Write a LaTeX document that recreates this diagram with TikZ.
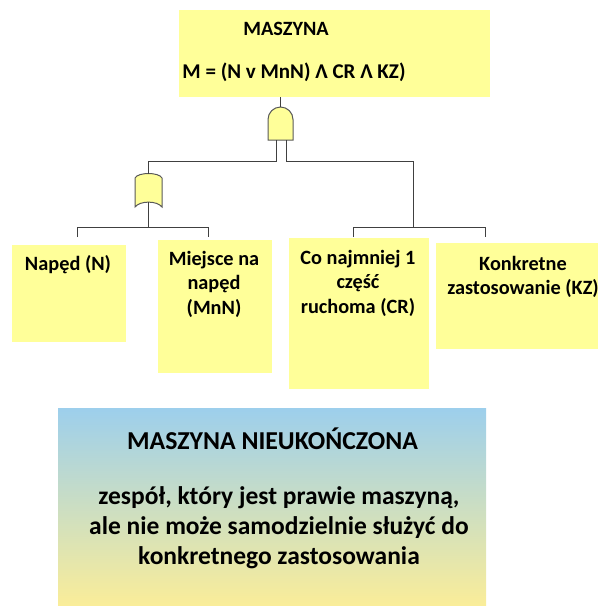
\documentclass[tikz,border=0pt]{standalone}
\usepackage{fontspec}
\setmainfont{Carlito}[BoldFont={Carlito Bold}]
\definecolor{boxyellow}{HTML}{FFFF99}
\definecolor{linegray}{HTML}{404040}
\definecolor{gateedge}{HTML}{595959}
\definecolor{topblue}{HTML}{9DCFEC}
\definecolor{botyellow}{HTML}{FAED99}
\tikzset{
  ybox/.style={fill=boxyellow, draw=none, inner sep=0pt, anchor=north west},
  lbl/.style={font=\bfseries\fontsize{20.3}{24.5}\selectfont, align=center, inner sep=0pt},
  biglbl/.style={font=\bfseries\fontsize{25.8}{30}\selectfont, align=center, inner sep=0pt},
  wire/.style={draw=linegray, line width=1pt},
  gate/.style={fill=boxyellow, draw=gateedge, line width=1pt},
}
\begin{document}
\begin{tikzpicture}[x=1pt,y=-1pt]
\useasboundingbox (0,0) rectangle (600,606);
% boxes
\node[ybox, minimum width=311pt, minimum height=87pt] (topbox) at (179,10) {};
\node[ybox, minimum width=114pt, minimum height=97pt] (nbox) at (12,245) {};
\node[ybox, minimum width=114pt, minimum height=133pt] (mnnbox) at (158,240) {};
\node[ybox, minimum width=140pt, minimum height=151pt] (crbox) at (289,238) {};
\node[ybox, minimum width=162pt, minimum height=106pt] (kzbox) at (436,243) {};
\node[anchor=north west, inner sep=0pt, minimum width=428pt, minimum height=197pt,
      top color=topblue, bottom color=botyellow, draw=none] (defbox) at (58,408) {};
% texts
\node[lbl] (ttitle) at (286,29) {MASZYNA};
\node[lbl, font=\bfseries\fontsize{21}{24.5}\selectfont] (tformula) at (294,72) {M = (N v MnN) Λ CR Λ KZ)};
\node[lbl] (tn) at (68,265) {Napęd (N)};
\node[lbl] (tmnn) at (214,284) {Miejsce na\\napęd\\(MnN)};
\node[lbl] (tcr) at (358,283) {Co najmniej 1\\część\\ruchoma (CR)};
\node[lbl] (tkz) at (523,277) {Konkretne\\zastosowanie (KZ)};
\node[biglbl] (dtitle) at (272.5,439) {MASZYNA NIEUKOŃCZONA};
\node[biglbl, font=\bfseries\fontsize{25.5}{30}\selectfont] (dbody) at (279,528) {zespół, który jest prawie maszyną,\\ale nie może samodzielnie służyć do\\konkretnego zastosowania};
% AND gate
\draw[gate] (268,140) -- (268,119.5) arc[start angle=180, end angle=0, radius=12.5pt] -- (293,140) -- cycle;
\coordinate (andout) at (280.5,107);
\coordinate (andinL) at (276,140);
\coordinate (andinR) at (286,140);
% OR gate
\draw[gate] (135,207) -- (135,178) .. controls (138,172) and (159,172) .. (162,178) -- (162,207) .. controls (157,200.5) and (140,200.5) .. cycle;
\coordinate (orout) at (148.5,173.5);
\coordinate (orin) at (148.5,202);
% wiring coordinates
\coordinate (topout) at (280.5,97);
\coordinate (lbar) at (148.5,227);
\coordinate (rbar) at (413,227);
\coordinate (nin) at (77,237);
\coordinate (mnnin) at (208,237);
\coordinate (crin) at (353,237);
\coordinate (kzin) at (485,237);
% wires
\draw[wire] (topout) -- (andout);
\draw[wire] (andinL) |- (148.5,161) -- (orout);
\draw[wire] (andinR) |- (413,161) -- (rbar);
\draw[wire] (orin) -- (lbar);
\draw[wire] (nin) |- (mnnin |- lbar) -- (mnnin);
\draw[wire] (crin) |- (kzin |- rbar) -- (kzin);
\end{tikzpicture}
\end{document}
